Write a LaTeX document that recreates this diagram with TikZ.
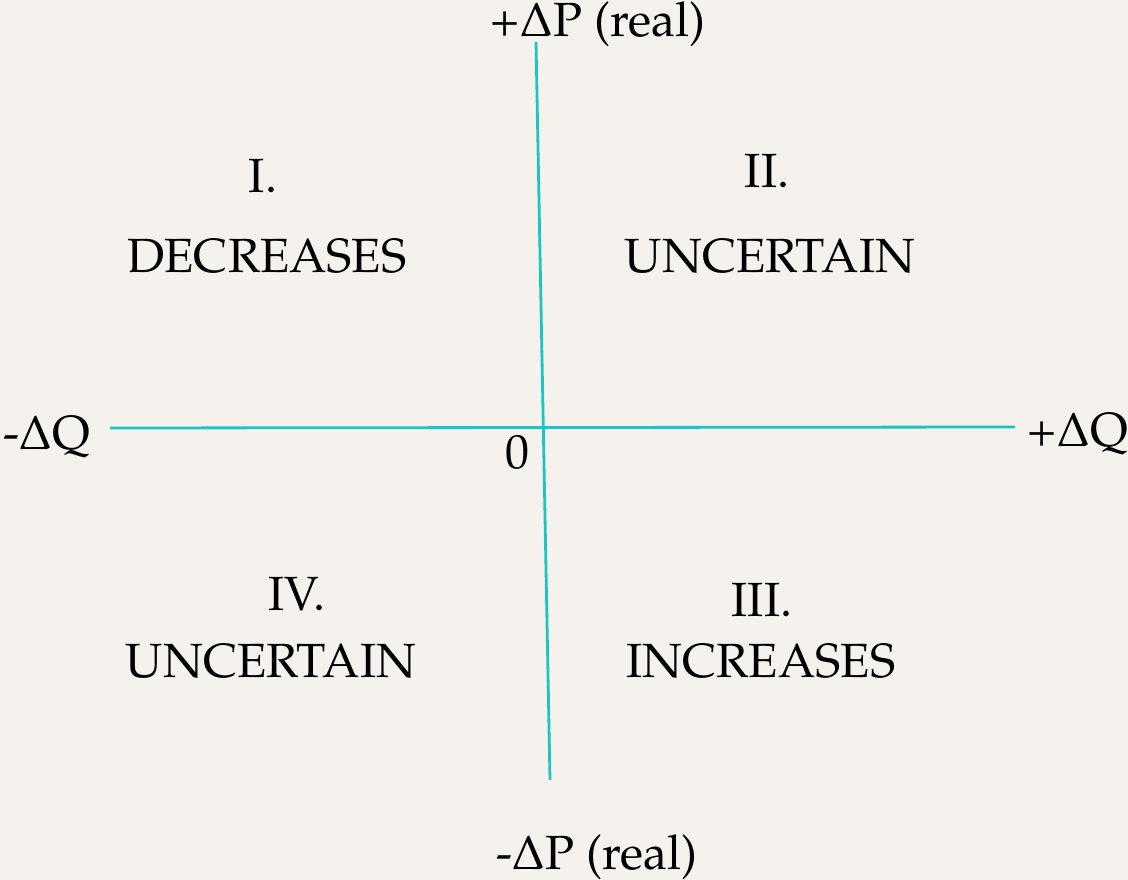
\documentclass[tikz,border=0pt]{standalone}
\usepackage[T1]{fontenc}
\usepackage{mathpazo}
\definecolor{paper}{HTML}{F5F2ED}
\definecolor{axiscol}{HTML}{1CC4C2}
\tikzset{
  lbl/.style={anchor=base, inner sep=0pt, font=\fontsize{48}{54}\selectfont, text=black},
  axis/.style={draw=axiscol, line width=2.8pt}
}
\begin{document}
\begin{tikzpicture}[x=1pt,y=-1pt]
\fill[paper] (0,0) rectangle (1128,880);
\useasboundingbox (0,0) rectangle (1128,880);
% axes
\coordinate (ptop) at (536,42);
\coordinate (pbot) at (550,780);
\coordinate (qleft) at (110,428);
\coordinate (qright) at (1015,427);
\draw[axis] (qleft) -- (qright);
\draw[axis] (ptop) -- (pbot);
% axis labels
\node[lbl] (pp) at (598,37) {+$\Delta$P (real)};
\node[lbl] (pm) at (597,869) {-$\Delta$P (real)};
\node[lbl] (qm) at (47,449) {-$\Delta$Q};
\node[lbl] (qp) at (1078,446) {+$\Delta$Q};
\node[lbl] (zero) at (517,468) {0};
% quadrants
\node[lbl] (q1n) at (263,193) {I.};
\node[lbl] (q1t) at (267,272) {DECREASES};
\node[lbl] (q2n) at (767,188) {II.};
\node[lbl] (q2t) at (770,272) {UNCERTAIN};
\node[lbl] (q4n) at (297,610) {IV.};
\node[lbl] (q4t) at (271,677) {UNCERTAIN};
\node[lbl] (q3n) at (762,616) {III.};
\node[lbl] (q3t) at (761,677) {INCREASES};
\end{tikzpicture}
\end{document}
